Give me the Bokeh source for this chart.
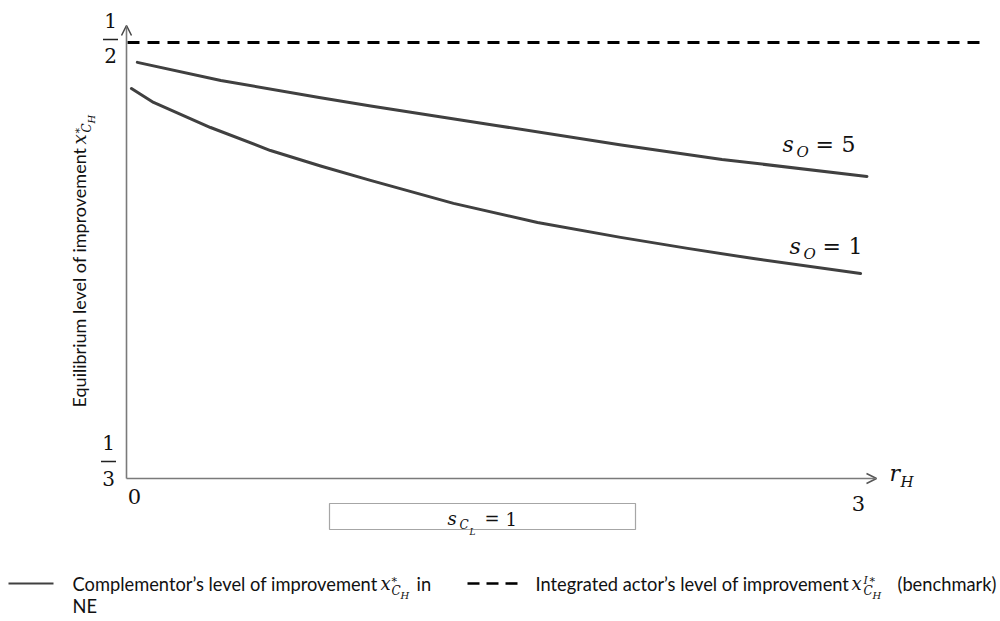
import math
from bokeh.plotting import figure
from bokeh.models import Range1d, Label, Arrow, OpenHead
from bokeh.embed import file_html
from bokeh.resources import INLINE

# ---------------- data ----------------
r_h_so5 = [0.04, 0.38, 0.78, 0.99, 1.50, 2.01, 2.42, 3.01]
x_so5 = [0.4924, 0.4855, 0.4790, 0.4757, 0.4683, 0.4608, 0.4553, 0.4488]

r_h_so1 = [0.016, 0.106, 0.338, 0.582, 0.786, 0.989, 1.327, 1.669, 2.007, 2.280, 2.548, 2.984]
x_so1 = [0.4824, 0.4771, 0.4675, 0.4587, 0.4528, 0.4473, 0.4385, 0.4312, 0.4255, 0.4213, 0.4174, 0.4117]

bench_r_h = [0.0, 3.5]
bench_x = [0.5, 0.5]

x_ticks = [0, 3]
x_tick_labels = ["0", "3"]
y_ticks = [1 / 2, 1 / 3]
y_tick_num = ["1", "1"]
y_tick_den = ["2", "3"]

# ---------------- layout helpers (reference pixel -> data) ----------------
W, H = 1000, 621
X0_PX, X3_PX = 127.0, 864.0
Y_LO_PX, Y_HI_PX = 478.0, 42.0
KX = (X3_PX - X0_PX) / 3.0
KY = (Y_LO_PX - Y_HI_PX) / (1 / 2 - 1 / 3)
BASE_K = 0.42   # correction of the rendered baseline, as a fraction of font size


def dx(rx):
    return (rx - X0_PX) / KX


def dy(ry):
    return 1 / 3 + (Y_LO_PX - ry) / KY


p = figure(width=W, height=H, output_backend="svg", toolbar_location=None,
           x_axis_type=None, y_axis_type=None, min_border=0,
           x_range=Range1d(dx(0), dx(W)), y_range=Range1d(dy(H), dy(0)))
p.outline_line_color = None
p.background_fill_color = "white"
p.border_fill_color = "white"

SERIF = "DejaVu Serif"
SANS = "Lato"
AX = "#7a7a7a"
CURVE = "#404040"


def lab(text, rx, ry, size, font=SERIF, style="normal", align="left", angle=0.0, color="#111111"):
    if angle == 0.0:
        ry = ry - BASE_K * size
    else:
        rx = rx - BASE_K * size
    p.add_layout(Label(x=dx(rx), y=dy(ry), text=text, text_font=font,
                       text_font_size=f"{size}px", text_font_style=style,
                       text_align=align, text_baseline="alphabetic",
                       angle=angle, text_color=color))


# ---------------- axes ----------------
p.add_layout(Arrow(end=OpenHead(size=10, line_color="#444444", line_width=1.5),
                   x_start=dx(126), y_start=1 / 3, x_end=dx(126), y_end=dy(25),
                   line_color=AX, line_width=1.6))
p.add_layout(Arrow(end=OpenHead(size=10, line_color="#555555", line_width=1.5),
                   x_start=dx(126), y_start=1 / 3, x_end=dx(876), y_end=1 / 3,
                   line_color=AX, line_width=1.6))

# ---------------- data lines ----------------
p.line(bench_r_h, bench_x, line_color="#000000", line_width=2.8, line_dash="12 8")
p.line(r_h_so5, x_so5, line_color=CURVE, line_width=3, line_join="round", line_cap="round")
p.line(r_h_so1, x_so1, line_color=CURVE, line_width=3, line_join="round", line_cap="round")

# ---------------- tick labels ----------------
x_tick_px = [(134, 505), (858, 512)]
for t, lbl, (cx, by) in zip(x_ticks, x_tick_labels, x_tick_px):
    lab(lbl, cx, by, 21, align="center")

frac_px = [(110, 28, 39, 63), (108, 450, 461, 486)]
for yv, num, den, (cx, nb, bar, db) in zip(y_ticks, y_tick_num, y_tick_den, frac_px):
    lab(num, cx, nb, 20, align="center")
    lab(den, cx, db, 20, align="center")
    p.segment(x0=[dx(cx - 7.5)], y0=[dy(bar)], x1=[dx(cx + 7.5)], y1=[dy(bar)],
              line_color="#222222", line_width=1.3)

# ---------------- axis titles ----------------
lab("r", 889, 482, 22, style="italic")
lab("H", 900, 488, 15, style="italic")

A = math.pi / 2
lab("Equilibrium level of improvement", 86, 407, 18, font=SANS, angle=A)
lab("x", 87, 144, 18, style="italic", angle=A)
lab("*", 84, 133, 11, angle=A)
lab("C", 92, 132, 12, style="italic", angle=A)
lab("H", 95, 123, 10, style="italic", angle=A)

# ---------------- curve labels ----------------
for (bx, by, d) in [(782, 153, "5"), (789, 255, "1")]:
    lab("s", bx, by, 22, style="italic")
    lab("O", bx + 14, by + 5, 15, style="italic")
    lab("=", bx + 33, by, 22)
    lab(d, bx + 59, by, 22)

# ---------------- parameter box ----------------
p.quad(left=[dx(329)], right=[dx(635)], top=[dy(503)], bottom=[dy(529)],
       fill_alpha=0, line_color="#a6a6a6", line_width=1.2)
lab("s", 447, 526, 18, style="italic")
lab("C", 459, 530, 12, style="italic")
lab("L", 469, 535, 9, style="italic")
lab("=", 484, 526, 18)
lab("1", 505, 526, 18)

# ---------------- legend ----------------
LS = 18.3
p.line([dx(8), dx(53)], [dy(583), dy(583)], line_color=CURVE, line_width=2.2)
lab("Complementor\u2019s level of improvement", 72, 591, LS, font=SANS)
lab("x", 380, 591, 18, style="italic")
lab("*", 391, 586, 11)
lab("C", 391, 596, 12, style="italic")
lab("H", 400, 599, 10, style="italic")
lab("in", 416, 591, LS, font=SANS)
lab("NE", 72, 613, LS, font=SANS)

p.line([dx(467), dx(517)], [dy(583), dy(583)], line_color="#000000", line_width=2.6, line_dash="12 7")
lab("Integrated actor\u2019s level of improvement", 535, 591, LS, font=SANS)
lab("x", 851, 591, 18, style="italic")
lab("I", 863, 585, 11, style="italic")
lab("*", 869, 586, 11)
lab("C", 863, 596, 12, style="italic")
lab("H", 872, 599, 10, style="italic")
lab("(benchmark)", 897, 591, LS, font=SANS)

open("out.html", "w").write(file_html(p, INLINE))
